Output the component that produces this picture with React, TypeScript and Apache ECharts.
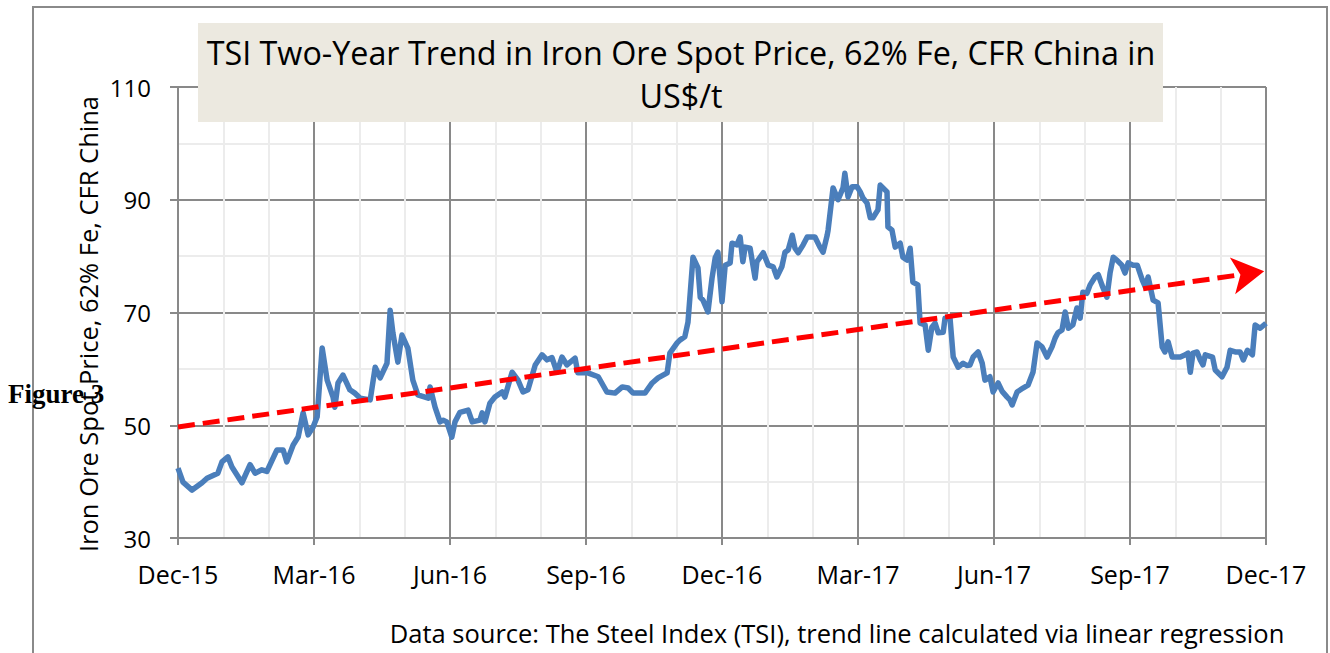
import React, { useEffect, useRef } from 'react';
import * as echarts from 'echarts';

const TITLE_LINES = ['TSI Two-Year Trend in Iron Ore Spot Price, 62% Fe, CFR China in', 'US$/t'];
const Y_NAME = 'Iron Ore Spot Price, 62% Fe, CFR China';
const SOURCE = 'Data source: The Steel Index (TSI), trend line calculated via linear regression';
const FIG = 'Figure 3';

const xTickLabels = ['Dec-15', 'Mar-16', 'Jun-16', 'Sep-16', 'Dec-16', 'Mar-17', 'Jun-17', 'Sep-17', 'Dec-17'];
const yTicks = [30, 50, 70, 90, 110];

// months elapsed since Dec-15
const months = [
  0.00, 0.11, 0.31, 0.53, 0.64, 0.88, 0.97, 1.10, 1.19, 1.41, 1.59, 1.70, 1.85, 1.96, 2.18, 2.32, 2.40, 2.54, 2.65, 2.76,
  2.87, 2.98, 3.07, 3.18, 3.29, 3.42, 3.46, 3.53, 3.64, 3.79, 3.90, 4.02, 4.24, 4.35, 4.46, 4.61, 4.68, 4.74, 4.85, 4.94,
  5.07, 5.18, 5.29, 5.52, 5.56, 5.67, 5.78, 5.85, 5.93, 6.04, 6.11, 6.22, 6.40, 6.49, 6.66, 6.71, 6.77, 6.88, 6.99, 7.15,
  7.21, 7.37, 7.50, 7.61, 7.72, 7.88, 8.03, 8.14, 8.25, 8.36, 8.47, 8.58, 8.76, 8.82, 9.04, 9.27, 9.46, 9.64, 9.80, 9.93,
  10.04, 10.30, 10.46, 10.59, 10.79, 10.85, 11.01, 11.07, 11.18, 11.25, 11.36, 11.47, 11.52, 11.58, 11.69, 11.78, 11.85, 11.91, 12.00, 12.07,
  12.18, 12.22, 12.33, 12.40, 12.46, 12.51, 12.62, 12.73, 12.77, 12.91, 13.02, 13.13, 13.21, 13.32, 13.39, 13.46, 13.55, 13.61, 13.68, 13.79,
  13.88, 14.05, 14.16, 14.23, 14.32, 14.34, 14.45, 14.56, 14.67, 14.71, 14.78, 14.87, 14.98, 15.05, 15.11, 15.20, 15.27, 15.33, 15.44, 15.49,
  15.64, 15.66, 15.75, 15.82, 15.93, 15.99, 16.08, 16.15, 16.21, 16.32, 16.37, 16.48, 16.55, 16.63, 16.70, 16.77, 16.88, 16.92, 17.03, 17.10,
  17.21, 17.32, 17.40, 17.47, 17.54, 17.65, 17.74, 17.80, 17.91, 17.98, 18.09, 18.18, 18.29, 18.35, 18.40, 18.51, 18.64, 18.75, 18.86, 18.95,
  19.06, 19.17, 19.28, 19.35, 19.41, 19.50, 19.57, 19.64, 19.74, 19.83, 19.90, 19.96, 20.05, 20.12, 20.23, 20.30, 20.38, 20.49, 20.56, 20.63,
  20.71, 20.82, 20.89, 20.96, 21.07, 21.16, 21.27, 21.34, 21.40, 21.51, 21.62, 21.71, 21.77, 21.84, 21.93, 22.11, 22.22, 22.28, 22.33, 22.39,
  22.48, 22.55, 22.61, 22.66, 22.82, 22.88, 23.03, 23.14, 23.21, 23.32, 23.43, 23.50, 23.59, 23.70, 23.76, 23.87, 24.00,
];

const spotPrice = [
  42.4, 39.9, 38.5, 39.8, 40.6, 41.5, 43.5, 44.4, 42.6, 39.8, 43.0, 41.5, 42.1, 41.8, 45.6, 45.6, 43.5, 46.5, 47.9, 52.2,
  48.3, 49.7, 51.5, 63.7, 58.0, 55.0, 53.2, 57.5, 58.9, 56.3, 55.7, 54.8, 54.5, 60.3, 58.4, 61.0, 70.4, 66.4, 61.2, 66.0,
  63.7, 58.0, 55.4, 54.8, 56.8, 53.2, 50.6, 50.9, 50.6, 47.9, 50.6, 52.3, 52.7, 50.6, 50.9, 52.2, 50.6, 53.9, 55.0, 55.9,
  55.0, 59.4, 58.0, 55.9, 56.3, 60.7, 62.5, 61.6, 62.0, 59.4, 62.1, 60.7, 61.9, 59.3, 59.3, 58.6, 55.9, 55.7, 56.8, 56.6,
  55.7, 55.7, 57.5, 58.4, 59.3, 62.8, 64.6, 65.1, 65.7, 68.3, 79.8, 77.9, 72.7, 72.2, 70.1, 76.1, 79.7, 80.7, 71.9, 78.4,
  78.8, 82.3, 82.0, 83.4, 79.0, 81.6, 81.4, 76.1, 79.0, 80.6, 78.4, 78.1, 76.3, 78.1, 80.7, 81.1, 83.7, 81.4, 80.6, 82.0,
  83.4, 83.4, 81.6, 80.7, 83.7, 84.6, 92.1, 90.0, 92.1, 94.7, 90.5, 92.3, 92.3, 91.4, 90.3, 89.4, 86.8, 86.8, 88.2, 92.6,
  91.4, 85.2, 84.6, 81.6, 82.3, 79.8, 79.3, 81.4, 75.4, 74.9, 68.1, 67.8, 63.3, 67.4, 68.1, 66.4, 66.5, 69.0, 69.0, 62.1,
  60.3, 61.0, 60.6, 60.7, 62.1, 63.0, 61.0, 58.0, 58.6, 55.9, 57.5, 56.0, 55.0, 54.5, 53.6, 55.9, 56.6, 57.1, 59.4, 64.6,
  63.9, 62.1, 63.9, 65.5, 66.4, 66.9, 70.1, 67.2, 67.8, 70.8, 69.0, 73.6, 73.4, 74.9, 76.3, 76.7, 74.9, 72.7, 77.0, 79.8,
  79.3, 78.4, 77.0, 78.8, 78.4, 78.4, 75.8, 74.5, 76.3, 72.2, 71.7, 63.9, 63.0, 64.8, 62.1, 62.1, 62.5, 62.8, 59.4, 62.8,
  63.0, 61.6, 60.7, 62.5, 62.1, 59.8, 58.6, 60.3, 63.3, 63.0, 63.0, 61.6, 63.3, 62.5, 67.8, 67.2, 68.1,
];

// linear-regression trend line end points (month, price)
const trendStart = [0, 49.7];
const trendEnd = [23.96, 77.3];

const FONT = '"Open Sans"';

export default function App() {
  const ref = useRef<HTMLDivElement>(null);
  useEffect(() => {
    if (!ref.current) return;
    const chart = echarts.init(ref.current, undefined, { renderer: 'svg' });
    const data = months.map((m, i) => [m, spotPrice[i]]);
    const gridLeft = 178, gridTop = 87, gridW = 1088, gridH = 451;
    chart.setOption({
      animation: false,
      backgroundColor: '#ffffff',
      grid: { left: gridLeft, top: gridTop, width: gridW, height: gridH, containLabel: false },
      xAxis: {
        type: 'value',
        min: 0,
        max: 24,
        interval: 3,
        axisLine: { show: true, lineStyle: { color: '#898989', width: 2 } },
        axisTick: { show: true, length: 7, lineStyle: { color: '#898989', width: 2 } },
        minorTick: { show: false, splitNumber: 3 },
        splitLine: { show: true, lineStyle: { color: '#898989', width: 2 } },
        minorSplitLine: { show: true, lineStyle: { color: '#ececec', width: 2 } },
        axisLabel: {
          margin: 23,
          fontFamily: FONT,
          fontSize: 25,
          color: '#000',
          formatter: (v: number) => xTickLabels[Math.round(v / 3)] ?? '',
        },
      },
      yAxis: {
        type: 'value',
        min: 30,
        max: 110,
        interval: 20,
        axisLine: { show: true, lineStyle: { color: '#898989', width: 2 } },
        axisTick: { show: true, length: 8, lineStyle: { color: '#898989', width: 2 } },
        minorTick: { show: false, splitNumber: 2 },
        splitLine: { show: true, lineStyle: { color: '#898989', width: 2 } },
        minorSplitLine: { show: true, lineStyle: { color: '#ececec', width: 2 } },
        axisLabel: {
          margin: 27,
          fontFamily: FONT,
          fontSize: 24,
          color: '#000',
          formatter: (v: number) => (yTicks.includes(v) ? String(v) : ''),
        },
      },
      series: [
        {
          type: 'line',
          data,
          showSymbol: false,
          symbol: 'none',
          lineStyle: { color: '#4a7ebb', width: 5.5, join: 'round' },
          z: 3,
          markLine: {
            silent: true,
            symbol: ['none', 'arrow'],
            symbolSize: [28, 32],
            label: { show: false },
            lineStyle: { color: '#ff0000', width: 5, type: [17, 8] },
            emphasis: { disabled: true },
            data: [[{ coord: trendStart }, { coord: trendEnd }]],
            z: 4,
          },
        },
      ],
      graphic: [
        {
          type: 'rect',
          z: -10,
          shape: { x: 33, y: 7, width: 1294, height: 700 },
          style: { fill: 'none', stroke: '#8a8a8a', lineWidth: 2 },
          silent: true,
        },
        {
          type: 'rect',
          z: 50,
          shape: { x: 198, y: 23, width: 965, height: 99 },
          style: { fill: '#ece9e0' },
          silent: true,
        },
        {
          type: 'text',
          z: 51,
          x: 681,
          y: 52,
          style: { text: TITLE_LINES[0], font: `32.3px ${FONT}`, fill: '#000', textAlign: 'center', textVerticalAlign: 'middle' },
        },
        {
          type: 'text',
          z: 51,
          x: 681,
          y: 95,
          style: { text: TITLE_LINES[1], font: `32.3px ${FONT}`, fill: '#000', textAlign: 'center', textVerticalAlign: 'middle' },
        },
        {
          type: 'text',
          z: 51,
          x: 88,
          y: 324,
          rotation: Math.PI / 2,
          style: { text: Y_NAME, font: `25.5px ${FONT}`, fill: '#000', textAlign: 'center', textVerticalAlign: 'middle' },
        },
        {
          type: 'text',
          z: 51,
          x: 837,
          y: 633,
          style: { text: SOURCE, font: `25.5px ${FONT}`, fill: '#000', textAlign: 'center', textVerticalAlign: 'middle' },
        },
        {
          type: 'text',
          z: 52,
          x: 8,
          y: 394,
          style: { text: FIG, font: `bold 27px "Liberation Serif"`, fill: '#000', textAlign: 'left', textVerticalAlign: 'middle' },
        },
      ],
    });
    return () => chart.dispose();
  }, []);
  return <div ref={ref} style={{ position: 'fixed', left: 0, top: 0, width: 1330, height: 653 }} />;
}
